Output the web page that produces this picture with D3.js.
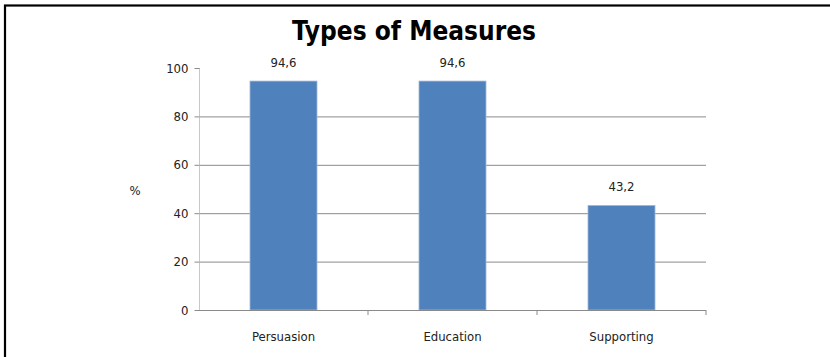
<!DOCTYPE html>
<html><head><meta charset="utf-8">
<script src="https://cdn.jsdelivr.net/npm/d3@7"></script>
<style>body{margin:0;background:#fff}svg{display:block}</style>
</head><body><svg id="c" width="830" height="357"></svg>
<script>
const categories = ["Persuasion", "Education", "Supporting"];
const values = [94.6, 94.6, 43.2];
const valueLabels = ["94,6", "94,6", "43,2"];
const yTicks = [0, 20, 40, 60, 80, 100];
const title = "Types of Measures";
const yLabel = "%";

const svg = d3.select("#c");
const font = "'Liberation Sans Narrow','DejaVu Sans Condensed',sans-serif";
// frame (left and top edges visible)
svg.append("rect").attr("x", 5).attr("y", 5.5).attr("width", 900).attr("height", 400)
  .attr("fill", "#fff").attr("stroke", "#000").attr("stroke-width", 2.2);

const L = 199, R = 706, T = 68, B = 310;
const x = d3.scaleBand().domain(categories).range([L, R]).paddingInner(0).paddingOuter(0);
const y = d3.scaleLinear().domain([0, 100]).range([B, T]);

// gridlines
svg.append("g").selectAll("line").data(yTicks.filter(d => d > 0 && d < 100)).join("line")
  .attr("x1", L).attr("x2", R).attr("y1", d => y(d) + 0.5).attr("y2", d => y(d) + 0.5)
  .attr("stroke", "#8a8a8a").attr("stroke-width", 1);

// bars
const bw = 67;
svg.append("g").selectAll("rect").data(values).join("rect")
  .attr("x", (d, i) => x(categories[i]) + x.bandwidth() / 2 - bw / 2)
  .attr("y", d => y(d)).attr("width", bw).attr("height", d => B - y(d))
  .attr("fill", "#4F81BD").attr("stroke", "#9fb8d8").attr("stroke-width", 0.8);

// y axis
const yAxis = d3.axisLeft(y).tickValues(yTicks).tickSize(5).tickPadding(6);
const gy = svg.append("g").attr("transform", `translate(${L + 0.5},0)`).call(yAxis);
gy.select(".domain").attr("stroke", "#c8c8c8").attr("d", `M0,${T}V${B + 0.5}`);
gy.selectAll(".tick line").attr("stroke", "#8a8a8a");
gy.selectAll(".tick text").attr("font-family", font).attr("font-size", 13).attr("fill", "#222");
// x axis line
const xAxis = d3.axisBottom(x).tickSize(0).tickPadding(21);
const gx = svg.append("g").attr("transform", `translate(0,${B + 0.5})`).call(xAxis);
gx.select(".domain").attr("stroke", "#8a8a8a").attr("d", `M${L},0H${R}`);
gx.selectAll(".tick text").attr("font-family", font).attr("font-size", 13).attr("fill", "#222");
// category boundary ticks
svg.append("g").selectAll("line").data(categories.slice(1).concat(["end"])).join("line")
  .attr("x1", (d, i) => i < 2 ? x(categories[i + 1]) : R).attr("x2", (d, i) => i < 2 ? x(categories[i + 1]) : R)
  .attr("y1", B).attr("y2", B + 5).attr("stroke", "#8a8a8a");

// data labels
svg.append("g").selectAll("text").data(valueLabels).join("text")
  .attr("x", (d, i) => x(categories[i]) + x.bandwidth() / 2)
  .attr("y", (d, i) => y(values[i]) - 14)
  .attr("text-anchor", "middle").attr("font-family", font).attr("font-size", 13).attr("fill", "#222")
  .text(d => d);

// y label
svg.append("text").attr("x", 135).attr("y", 195).attr("text-anchor", "middle")
  .attr("font-family", font).attr("font-size", 13).attr("fill", "#222").text(yLabel);

// title
svg.append("text").attr("x", 414).attr("y", 40).attr("text-anchor", "middle")
  .attr("font-family", font).attr("font-weight", "bold").attr("font-size", 26).attr("fill", "#000")
  .text(title);
</script></body></html>
